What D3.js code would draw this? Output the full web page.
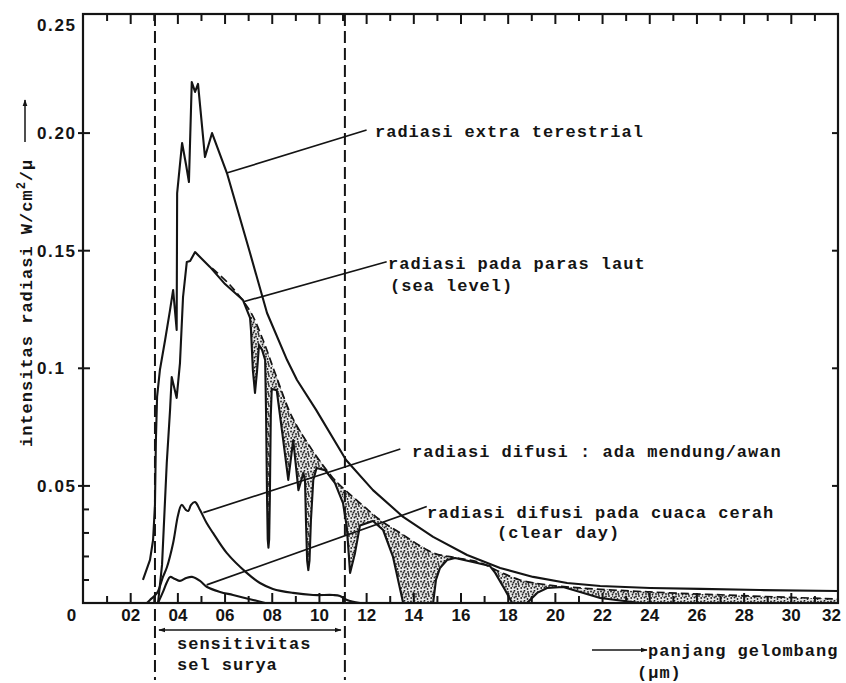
<!DOCTYPE html>
<html>
<head>
<meta charset="utf-8">
<script src="https://cdn.jsdelivr.net/npm/d3@7"></script>
<style>
  html, body { margin: 0; padding: 0; background: #ffffff; }
  svg { display: block; }
  .mono { font-family: "Liberation Mono", "DejaVu Sans Mono", monospace; font-weight: bold; font-size: 17px; letter-spacing: 1px; fill: #141414; }
  .axis text { font-family: "Liberation Sans", Arial, sans-serif; font-weight: bold; font-size: 17px; fill: #141414; }
  .axis line { stroke: #141414; stroke-width: 2; }
  .axis path { display: none; }
</style>
</head>
<body>
<svg id="chart" width="846" height="683"></svg>
<script>
// ---------------- DATA (wavelength in µm, intensity in W/cm²/µ) ----------------
const xMajorTicks = [0, 0.2, 0.4, 0.6, 0.8, 1.0, 1.2, 1.4, 1.6, 1.8, 2.0, 2.2, 2.4, 2.6, 2.8, 3.0, 3.2];
const xMinorTicks = [0.1, 0.3, 0.5, 0.7, 0.9, 1.1, 1.3, 1.5, 1.7, 1.9, 2.1, 2.3, 2.5, 2.7, 2.9, 3.1];
const yMajorTicks = [0.05, 0.10, 0.15, 0.20, 0.25];
const yTickLabels = ["0.05", "0.1", "0.15", "0.20", "0.25"];
const yMinorTicks = [0.01, 0.02, 0.03, 0.04];
const cellRange = [0.305, 1.11];   // dashed lines: sensitivity of the solar cell

// radiasi extra terestrial
const extraTerrestrial = [
  [0.254,0.0098],[0.284,0.0183],[0.297,0.0268],[0.305,0.0417],[0.309,0.0693],[0.314,0.0876],
  [0.326,0.0991],[0.348,0.1118],[0.369,0.1246],[0.382,0.1331],[0.397,0.1161],[0.399,0.1743],
  [0.420,0.1956],[0.437,0.1862],[0.449,0.1790],[0.461,0.2215],[0.475,0.2173],[0.4875,0.2207],
  [0.517,0.1896],[0.547,0.1998],[0.610,0.1828],[0.708,0.1488],[0.780,0.1233],[0.865,0.1033],
  [0.907,0.0948],[0.988,0.0821],[1.115,0.0608],[1.229,0.0480],[1.357,0.0366],[1.484,0.0281],
  [1.628,0.0204],[1.768,0.0149],[1.908,0.0111],[2.052,0.0085],[2.192,0.0072],[2.404,0.0064],
  [2.616,0.0060],[2.870,0.0055],[3.200,0.0051]
];

// radiasi pada paras laut (sea level), with absorption bands
const seaLevel = [
  [0.318,0],[0.335,0.0162],[0.355,0.0595],[0.369,0.0821],[0.376,0.0961],[0.397,0.0872],
  [0.411,0.1020],[0.424,0.1301],[0.440,0.1450],[0.454,0.1454],[0.475,0.1492],[0.538,0.1429],
  [0.602,0.1356],[0.678,0.1288],[0.708,0.1212],[0.712,0.1160],[0.720,0.0990],[0.729,0.0893],
  [0.738,0.0990],[0.746,0.1097],[0.759,0.1076],[0.772,0.1033],[0.776,0.0800],[0.780,0.0450],
  [0.783,0.0270],[0.786,0.0235],[0.789,0.0270],[0.792,0.0450],[0.796,0.0800],[0.800,0.0910],
  [0.821,0.0905],[0.845,0.0720],[0.870,0.0523],[0.891,0.0693],[0.913,0.0480],[0.934,0.0553],
  [0.941,0.0520],[0.945,0.0350],[0.950,0.0180],[0.955,0.0140],[0.960,0.0180],[0.966,0.0350],
  [0.976,0.0523],[0.990,0.0574],[1.026,0.0565],[1.068,0.0510],[1.102,0.0425],[1.118,0.0323],
  [1.132,0.0128],[1.153,0.0213],[1.174,0.0330],[1.229,0.0349],[1.272,0.0310],[1.314,0.0196],
  [1.357,0],[1.484,0],[1.496,0.0098],[1.513,0.0149],[1.543,0.0183],[1.577,0.0191],
  [1.662,0.0172],[1.725,0.0157],[1.747,0.0128],[1.789,0.0055],[1.819,0],[1.882,0],
  [1.925,0.0043],[1.967,0.0064],[2.035,0.0068],[2.107,0.0047],[2.192,0.0021],[2.361,0]
];

// sea level without absorption (dashed)
const seaLevelClear = [
  [0.547,0.1424],[0.623,0.1352],[0.708,0.1241],[0.763,0.1118],[0.814,0.0978],[0.886,0.0791],
  [0.971,0.0651],[1.056,0.0536],[1.111,0.0480],[1.174,0.0425],[1.259,0.0353],[1.344,0.0298],
  [1.484,0.0213],[1.577,0.0193],[1.683,0.0172],[1.768,0.0132],[1.852,0.0098],[1.967,0.0077],
  [2.107,0.0064],[2.404,0.0047],[2.827,0.0030],[3.200,0.0017]
];

// radiasi difusi : ada mendung/awan
const diffuseCloudy = [
  [0.271,0],[0.284,0.0013],[0.314,0.0043],[0.339,0.0111],[0.356,0.0153],[0.382,0.0255],
  [0.403,0.0374],[0.418,0.0417],[0.437,0.0395],[0.446,0.0391],[0.458,0.0417],[0.475,0.0429],
  [0.496,0.0395],[0.524,0.0340],[0.551,0.0298],[0.609,0.0213],[0.694,0.0128],[0.750,0.0085],
  [0.805,0.0060],[0.890,0.0043],[0.975,0.0034],[1.060,0.0034],[1.089,0.0030],[1.119,0.0013],
  [1.174,0]
];

// radiasi difusi pada cuaca cerah (clear day)
const diffuseClear = [
  [0.318,0],[0.339,0.0047],[0.356,0.0089],[0.369,0.0111],[0.390,0.0102],[0.411,0.0094],
  [0.437,0.0106],[0.462,0.0111],[0.496,0.0094],[0.526,0.0068],[0.581,0.0047],[0.636,0.0034],
  [0.721,0.0013],[0.772,0]
];

// ---------------- LAYOUT ----------------
const svg = d3.select("#chart");
const pLeft = 83, pRight = 838, pTop = 14, pBottom = 603;
const x = d3.scaleLinear().domain([0, 3.2]).range([pLeft, pRight]);
const y = d3.scaleLinear().domain([0, 0.25]).range([pBottom, 15]);
const ink = "#141414";

const defs = svg.append("defs");
// stipple pattern for absorbed parts
const pat = defs.append("pattern").attr("id", "stipple")
  .attr("width", 10).attr("height", 10).attr("patternUnits", "userSpaceOnUse");
pat.append("rect").attr("width", 10).attr("height", 10).attr("fill", "#e6e6e6");
[[1,1.5],[4.5,0.8],[8,2],[2.5,4.5],[6,4],[9,6],[1.2,8],[4.5,7.5],[7.5,9],[3.5,2.5],[8.5,4],[6,6.5]].forEach(p => {
  pat.append("circle").attr("cx", p[0]).attr("cy", p[1]).attr("r", 0.9).attr("fill", "#1c1c1c");
});
pat.append("line").attr("x1", 2).attr("y1", 6).attr("x2", 3.2).attr("y2", 6.6).attr("stroke", "#222").attr("stroke-width", 0.9);

// arrow markers
defs.append("marker").attr("id", "arrowEnd").attr("viewBox", "0 0 10 10")
  .attr("refX", 9).attr("refY", 5).attr("markerWidth", 7).attr("markerHeight", 7)
  .attr("orient", "auto-start-reverse").attr("markerUnits", "userSpaceOnUse")
  .append("path").attr("d", "M0,1.5 L10,5 L0,8.5 Z").attr("fill", ink);

// ---------- stippled absorption area between dashed curve and sea-level curve ----------
function interp(series, w) {
  if (w <= series[0][0]) return series[0][1];
  if (w >= series[series.length - 1][0]) return series[series.length - 1][1];
  for (let i = 0; i < series.length - 1; i++) {
    const a = series[i], b = series[i + 1];
    if (w >= a[0] && w <= b[0]) {
      const t = (b[0] === a[0]) ? 0 : (w - a[0]) / (b[0] - a[0]);
      return a[1] + t * (b[1] - a[1]);
    }
  }
  return 0;
}
function seaInterp(w) {
  if (w > seaLevel[seaLevel.length - 1][0]) return 0;
  return interp(seaLevel, w);
}
const grid = Array.from(new Set(
  seaLevel.map(d => d[0]).concat(seaLevelClear.map(d => d[0]))
)).filter(w => w >= 0.708).sort((a, b) => a - b);
const bandData = grid.map(w => ({ w, lo: Math.min(seaInterp(w), interp(seaLevelClear, w)), hi: interp(seaLevelClear, w) }));

svg.append("path")
  .datum(bandData)
  .attr("d", d3.area().x(d => x(d.w)).y0(d => y(d.lo)).y1(d => y(d.hi)))
  .attr("fill", "url(#stipple)")
  .attr("stroke", "none");

// ---------- axes ----------
const fmtX = d => d === 0 ? "0" : String(Math.round(d * 10)).padStart(2, "0");

const gxMajor = svg.append("g").attr("class", "axis")
  .attr("transform", `translate(0,${pBottom})`)
  .call(d3.axisBottom(x).tickValues(xMajorTicks).tickSize(-10).tickPadding(6).tickFormat(fmtX));
gxMajor.selectAll(".tick text").attr("dy", "0.72em")
  .attr("dx", d => d === 0 ? -12 : (d === 3.2 ? -7 : 0));
gxMajor.selectAll(".tick").filter(d => d === 0 || d === 3.2).select("line").remove();

svg.append("g").attr("class", "axis")
  .attr("transform", `translate(0,${pBottom})`)
  .call(d3.axisBottom(x).tickValues(xMinorTicks).tickSize(-7).tickFormat(""));

// top ticks
svg.append("g").attr("class", "axis")
  .attr("transform", `translate(0,${pTop})`)
  .call(d3.axisTop(x).tickValues(xMajorTicks.filter(d => d > 0 && d < 3.2)).tickSize(-10).tickFormat(""));
svg.append("g").attr("class", "axis")
  .attr("transform", `translate(0,${pTop})`)
  .call(d3.axisTop(x).tickValues(xMinorTicks).tickSize(-7).tickFormat(""));

// left axis
const gy = svg.append("g").attr("class", "axis")
  .attr("transform", `translate(${pLeft},0)`)
  .call(d3.axisLeft(y).tickValues(yMajorTicks).tickSize(-7)
    .tickFormat((d, i) => yTickLabels[i]));
gy.selectAll(".tick line").attr("x1", -5);
gy.selectAll(".tick text").attr("text-anchor", "start").attr("x", -46)
  .style("letter-spacing", "1.6px")
  .attr("dy", d => d === 0.25 ? "0.9em" : "0.35em");
gy.selectAll(".tick").filter(d => d === 0.25).select("line").remove();

svg.append("g").attr("class", "axis")
  .attr("transform", `translate(${pLeft},0)`)
  .call(d3.axisLeft(y).tickValues(yMinorTicks).tickSize(-6).tickFormat(""));

// right axis ticks
svg.append("g").attr("class", "axis")
  .attr("transform", `translate(${pRight},0)`)
  .call(d3.axisRight(y).tickValues(yMajorTicks.filter(d => d < 0.25)).tickSize(-6).tickFormat(""));

// frame
svg.append("rect").attr("x", pLeft).attr("y", pTop)
  .attr("width", pRight - pLeft).attr("height", pBottom - pTop)
  .attr("fill", "none").attr("stroke", ink).attr("stroke-width", 2.2);

// dashed sensitivity limits
svg.selectAll(".cellLine").data(cellRange).enter().append("line")
  .attr("class", "cellLine")
  .attr("x1", d => x(d)).attr("x2", d => x(d))
  .attr("y1", pTop).attr("y2", 680)
  .attr("stroke", ink).attr("stroke-width", 2).attr("stroke-dasharray", "12,5");

// ---------- curves ----------
const smooth = d3.line().x(d => x(d[0])).y(d => y(d[1])).curve(d3.curveCatmullRom.alpha(0.5));
const straight = d3.line().x(d => x(d[0])).y(d => y(d[1])).curve(d3.curveLinear);

svg.append("path").datum(extraTerrestrial).attr("d", straight)
  .attr("fill", "none").attr("stroke", ink).attr("stroke-width", 2.1).attr("stroke-linejoin", "round");
svg.append("path").datum(seaLevelClear).attr("d", smooth)
  .attr("fill", "none").attr("stroke", ink).attr("stroke-width", 1.7).attr("stroke-dasharray", "8,4");
svg.append("path").datum(seaLevel).attr("d", straight)
  .attr("fill", "none").attr("stroke", ink).attr("stroke-width", 2.1).attr("stroke-linejoin", "round");
svg.append("path").datum(diffuseCloudy).attr("d", smooth)
  .attr("fill", "none").attr("stroke", ink).attr("stroke-width", 2.1);
svg.append("path").datum(diffuseClear).attr("d", smooth)
  .attr("fill", "none").attr("stroke", ink).attr("stroke-width", 2.1);

// ---------- annotations ----------
const notes = [
  { from: [0.609, 0.1828], to: [1.202, 0.2011], lines: [["radiasi extra terestrial", 375, 131]] },
  { from: [0.680, 0.1281], to: [1.287, 0.1451], lines: [["radiasi pada paras laut", 388, 263], ["(sea level)", 390, 285]] },
  { from: [0.510, 0.0384], to: [1.345, 0.0655], lines: [["radiasi difusi : ada mendung/awan", 412, 451]] },
  { from: [0.524, 0.0077], to: [1.457, 0.0410], lines: [["radiasi difusi pada cuaca cerah", 427, 512], ["(clear day)", 497, 532]] }
];
notes.forEach(n => {
  svg.append("line")
    .attr("x1", x(n.from[0])).attr("y1", y(n.from[1]))
    .attr("x2", x(n.to[0])).attr("y2", y(n.to[1]))
    .attr("stroke", ink).attr("stroke-width", 1.7);
  n.lines.forEach(l => {
    svg.append("text").attr("class", "mono").attr("x", l[1]).attr("y", l[2])
      .attr("dy", "0.35em").text(l[0]);
  });
});

// sensitivity arrow + label
svg.append("line")
  .attr("x1", x(cellRange[0]) + 4).attr("x2", x(cellRange[1]) - 4)
  .attr("y1", 630).attr("y2", 630)
  .attr("stroke", ink).attr("stroke-width", 1.5)
  .attr("marker-start", "url(#arrowEnd)").attr("marker-end", "url(#arrowEnd)");
svg.append("text").attr("class", "mono").attr("x", 177).attr("y", 643).attr("dy", "0.35em").text("sensitivitas");
svg.append("text").attr("class", "mono").attr("x", 177).attr("y", 664).attr("dy", "0.35em").text("sel surya");

// x axis title
svg.append("line").attr("x1", 592).attr("x2", 647).attr("y1", 650).attr("y2", 650)
  .attr("stroke", ink).attr("stroke-width", 1.5).attr("marker-end", "url(#arrowEnd)");
svg.append("text").attr("class", "mono").attr("x", 648).attr("y", 650).attr("dy", "0.35em").text("panjang gelombang");
svg.append("text").attr("class", "mono").attr("x", 637).attr("y", 672).attr("dy", "0.35em").text("(\u00b5m)");

// y axis title
const yt = svg.append("text").attr("class", "mono")
  .attr("transform", "translate(32,447) rotate(-90)");
yt.append("tspan").text("intensitas radiasi W/cm");
yt.append("tspan").attr("dy", "-7").style("font-size", "12px").text("2");
yt.append("tspan").attr("dy", "7").text("/\u00b5");
svg.append("line").attr("x1", 25).attr("x2", 25).attr("y1", 142).attr("y2", 100)
  .attr("stroke", ink).attr("stroke-width", 1.5).attr("marker-end", "url(#arrowEnd)");
</script>
</body>
</html>
